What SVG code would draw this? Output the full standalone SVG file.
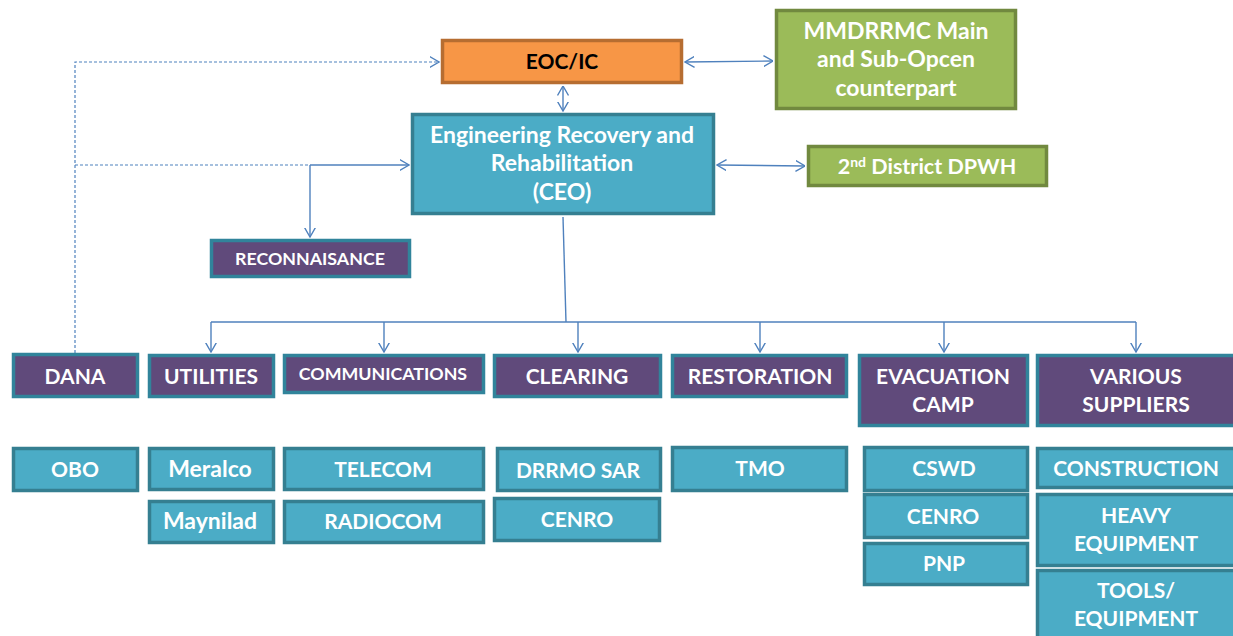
<svg xmlns="http://www.w3.org/2000/svg" width="1233" height="636" viewBox="0 0 1233 636">
<defs>
<marker id="arr" viewBox="0 0 10 12" refX="9.5" refY="6" markerWidth="10" markerHeight="12" markerUnits="userSpaceOnUse" orient="auto-start-reverse">
<path d="M0,0.5 L9.5,6 L0,11.5" fill="none" stroke="#4F81BD" stroke-width="1.4"/>
</marker>
<style>
text{font-family:Lato,"Open Sans","Liberation Sans",sans-serif;font-weight:bold;text-anchor:middle;fill:#FFFFFF;font-size:21px}
.sm{font-size:17.8px}
.lc{font-size:23px}
.purple{fill:#604A7B;stroke:#31849B;stroke-width:3.5}
.teal{fill:#4BACC6;stroke:#357F91;stroke-width:3.5}
.green{fill:#9BBB59;stroke:#71893F;stroke-width:3.5}
.orange{fill:#F79646;stroke:#B66D31;stroke-width:3.5}
.c{fill:none;stroke:#4F81BD;stroke-width:1.4}
.d{fill:none;stroke:#4F81BD;stroke-width:1.2;stroke-dasharray:3,2}
</style>
</defs>
<rect width="1233" height="636" fill="#FFFFFF"/>

<g id="connectors">
<path class="d" d="M75,353 L75,62 L439,62" marker-end="url(#arr)"/>
<path class="d" d="M75,165 L310,165"/>
<path class="c" d="M310,165 L409,165" marker-end="url(#arr)"/>
<path class="c" d="M310,165 L310,237" marker-end="url(#arr)"/>
<path class="c" d="M563,86 L563,111" marker-start="url(#arr)" marker-end="url(#arr)"/>
<path class="c" d="M685,62 L773,61" marker-start="url(#arr)" marker-end="url(#arr)"/>
<path class="c" d="M717,165 L805,166" marker-start="url(#arr)" marker-end="url(#arr)"/>
<path class="c" d="M563,217 L566,322"/>
<path class="c" d="M211,322 L1136,322"/>
<path class="c" d="M211,322 L211,352" marker-end="url(#arr)"/>
<path class="c" d="M384,322 L384,352" marker-end="url(#arr)"/>
<path class="c" d="M578,322 L578,352" marker-end="url(#arr)"/>
<path class="c" d="M760,322 L760,352" marker-end="url(#arr)"/>
<path class="c" d="M944,322 L944,352" marker-end="url(#arr)"/>
<path class="c" d="M1136,322 L1136,352" marker-end="url(#arr)"/>
</g>

<g id="eoc"><rect class="orange" x="442.5" y="40.5" width="239" height="42"/><text x="562" y="69" style="fill:#000000">EOC/IC</text></g>
<g id="mmdrrmc"><rect class="green" x="776.5" y="10.5" width="239" height="98"/>
<text class="lc" x="896" y="39">MMDRRMC Main</text><text class="lc" x="896" y="67">and Sub-Opcen</text><text class="lc" x="896" y="96">counterpart</text></g>
<g id="ceo"><rect class="teal" x="412.5" y="114.5" width="301" height="99"/>
<text class="lc" x="562" y="143">Engineering Recovery and</text><text class="lc" x="562" y="171">Rehabilitation</text><text class="lc" x="562" y="200">(CEO)</text></g>
<g id="dpwh"><rect class="green" x="808.5" y="146.5" width="238" height="39"/>
<text x="927" y="174" style="font-size:21.5px">2<tspan font-size="14" dy="-7">nd</tspan><tspan dy="7"> District DPWH</tspan></text></g>
<g id="recon"><rect class="purple" x="211.5" y="240.5" width="198" height="36"/><text class="sm" x="310" y="265">RECONNAISANCE</text></g>

<g id="dana"><rect class="purple" x="13.5" y="354.5" width="124" height="42"/><text x="75" y="384">DANA</text></g>
<g id="utilities"><rect class="purple" x="149.5" y="355.5" width="124" height="41"/><text x="211" y="384">UTILITIES</text></g>
<g id="communications"><rect class="purple" x="284.5" y="355.5" width="199" height="37"/><text class="sm" x="383" y="380">COMMUNICATIONS</text></g>
<g id="clearing"><rect class="purple" x="494.5" y="355.5" width="166" height="41"/><text x="577" y="384">CLEARING</text></g>
<g id="restoration"><rect class="purple" x="672.5" y="355.5" width="174" height="41"/><text x="760" y="384">RESTORATION</text></g>
<g id="evacuation"><rect class="purple" x="859.5" y="355.5" width="168" height="70"/><text x="943" y="384">EVACUATION</text><text x="943" y="412">CAMP</text></g>
<g id="suppliers"><rect class="purple" x="1037.5" y="355.5" width="204" height="70"/><text x="1136" y="384">VARIOUS</text><text x="1136" y="412">SUPPLIERS</text></g>

<g id="obo"><rect class="teal" x="13.5" y="448.5" width="124" height="42"/><text x="75" y="477">OBO</text></g>
<g id="meralco"><rect class="teal" x="149.5" y="448.5" width="124" height="41"/><text class="lc" x="210" y="477">Meralco</text></g>
<g id="maynilad"><rect class="teal" x="149.5" y="501.5" width="124" height="41"/><text class="lc" x="210" y="529">Maynilad</text></g>
<g id="telecom"><rect class="teal" x="284.5" y="448.5" width="199" height="41"/><text x="383" y="477">TELECOM</text></g>
<g id="radiocom"><rect class="teal" x="284.5" y="501.5" width="199" height="41"/><text x="383" y="529">RADIOCOM</text></g>
<g id="drrmo"><rect class="teal" x="497.5" y="448.5" width="163" height="42"/><text x="578" y="478">DRRMO SAR</text></g>
<g id="cenro1"><rect class="teal" x="494.5" y="498.5" width="165" height="42"/><text x="577" y="527">CENRO</text></g>
<g id="tmo"><rect class="teal" x="672.5" y="447.5" width="174" height="43"/><text x="760" y="476">TMO</text></g>
<g id="cswd"><rect class="teal" x="864.5" y="447.5" width="163" height="43"/><text x="944" y="476">CSWD</text></g>
<g id="cenro2"><rect class="teal" x="864.5" y="494.5" width="163" height="43"/><text x="943" y="524">CENRO</text></g>
<g id="pnp"><rect class="teal" x="864.5" y="543.5" width="163" height="41"/><text x="944" y="571">PNP</text></g>
<g id="construction"><rect class="teal" x="1037.5" y="448.5" width="204" height="39"/><text x="1136" y="476">CONSTRUCTION</text></g>
<g id="heavy"><rect class="teal" x="1037.5" y="494.5" width="204" height="71"/><text x="1136" y="523">HEAVY</text><text x="1136" y="551">EQUIPMENT</text></g>
<g id="tools"><rect class="teal" x="1037.5" y="570.5" width="204" height="80"/><text x="1136" y="598">TOOLS/</text><text x="1136" y="626">EQUIPMENT</text></g>
</svg>
